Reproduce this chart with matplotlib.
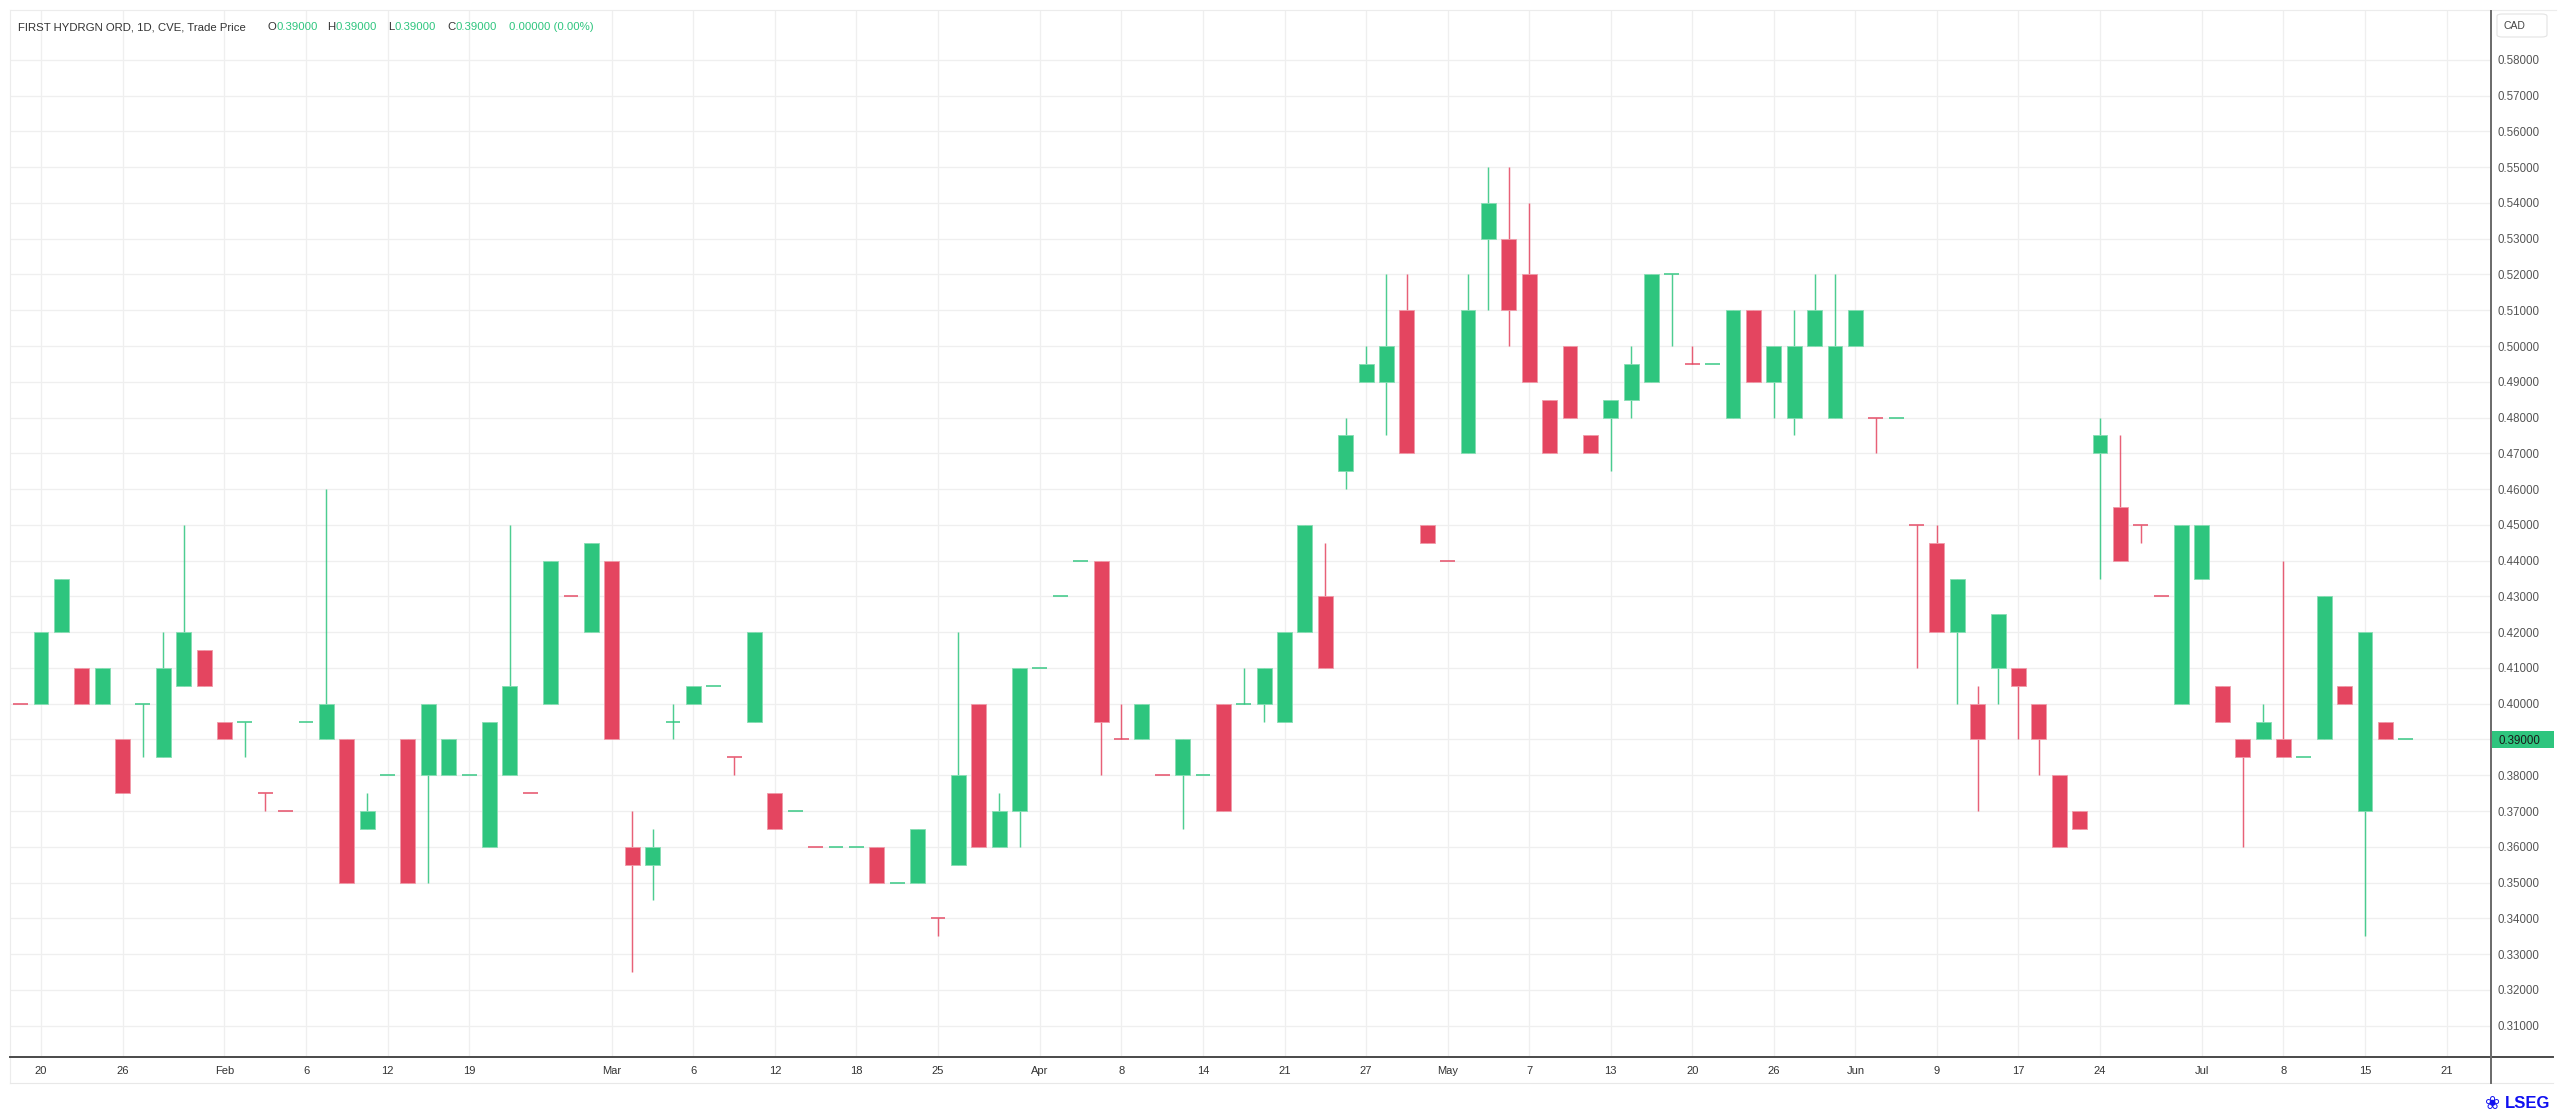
import matplotlib
matplotlib.use("Agg")
import matplotlib.pyplot as plt
from matplotlib.transforms import blended_transform_factory
from matplotlib.patches import Rectangle, FancyBboxPatch
from matplotlib.lines import Line2D
from matplotlib.ticker import FuncFormatter
import numpy as np

# ---------------- data ----------------
opens = [0.40, 0.40, 0.42, 0.41, 0.40, 0.39, 0.40, 0.385, 0.405, 0.415,
         0.395, 0.395, 0.375, 0.37, 0.395, 0.39, 0.39, 0.365, 0.38, 0.39,
         0.38, 0.38, 0.38, 0.36, 0.38, 0.375, 0.40, 0.43, 0.42, 0.44,
         0.36, 0.355, 0.395, 0.40, 0.405, 0.385, 0.395, 0.375, 0.37, 0.36,
         0.36, 0.36, 0.36, 0.35, 0.35, 0.34, 0.355, 0.40, 0.36, 0.37,
         0.41, 0.43, 0.44, 0.44, 0.39, 0.39, 0.38, 0.38, 0.38, 0.40,
         0.40, 0.40, 0.395, 0.42, 0.43, 0.465, 0.49, 0.49, 0.51, 0.45,
         0.44, 0.47, 0.53, 0.53, 0.52, 0.485, 0.50, 0.475, 0.48, 0.485,
         0.49, 0.52, 0.495, 0.495, 0.48, 0.51, 0.49, 0.48, 0.50, 0.48,
         0.50, 0.48, 0.48, 0.45, 0.445, 0.42, 0.40, 0.41, 0.41, 0.40,
         0.38, 0.37, 0.47, 0.455, 0.45, 0.43, 0.40, 0.435, 0.405, 0.39,
         0.39, 0.39, 0.385, 0.39, 0.405, 0.37, 0.395, 0.39]
highs = [0.40, 0.42, 0.435, 0.41, 0.41, 0.39, 0.40, 0.42, 0.45, 0.415,
         0.395, 0.395, 0.375, 0.37, 0.395, 0.46, 0.39, 0.375, 0.38, 0.39,
         0.40, 0.39, 0.38, 0.395, 0.45, 0.375, 0.44, 0.43, 0.445, 0.44,
         0.37, 0.365, 0.40, 0.405, 0.405, 0.385, 0.42, 0.375, 0.37, 0.36,
         0.36, 0.36, 0.36, 0.35, 0.365, 0.34, 0.42, 0.40, 0.375, 0.41,
         0.41, 0.43, 0.44, 0.44, 0.40, 0.40, 0.38, 0.39, 0.38, 0.40,
         0.41, 0.41, 0.42, 0.45, 0.445, 0.48, 0.50, 0.52, 0.52, 0.45,
         0.44, 0.52, 0.55, 0.55, 0.54, 0.485, 0.50, 0.475, 0.485, 0.50,
         0.52, 0.52, 0.50, 0.495, 0.51, 0.51, 0.50, 0.51, 0.52, 0.52,
         0.51, 0.48, 0.48, 0.45, 0.45, 0.435, 0.405, 0.425, 0.41, 0.40,
         0.38, 0.37, 0.48, 0.475, 0.45, 0.43, 0.45, 0.45, 0.405, 0.39,
         0.40, 0.44, 0.385, 0.43, 0.405, 0.42, 0.395, 0.39]
lows = [0.40, 0.40, 0.42, 0.40, 0.40, 0.375, 0.385, 0.385, 0.405, 0.405,
        0.39, 0.385, 0.37, 0.37, 0.395, 0.39, 0.35, 0.365, 0.38, 0.35,
        0.35, 0.38, 0.38, 0.36, 0.38, 0.375, 0.40, 0.43, 0.42, 0.39,
        0.325, 0.345, 0.39, 0.40, 0.405, 0.38, 0.395, 0.365, 0.37, 0.36,
        0.36, 0.36, 0.35, 0.35, 0.35, 0.335, 0.355, 0.36, 0.36, 0.36,
        0.41, 0.43, 0.44, 0.38, 0.39, 0.39, 0.38, 0.365, 0.38, 0.37,
        0.40, 0.395, 0.395, 0.42, 0.41, 0.46, 0.49, 0.475, 0.47, 0.445,
        0.44, 0.47, 0.51, 0.50, 0.49, 0.47, 0.48, 0.47, 0.465, 0.48,
        0.49, 0.50, 0.495, 0.495, 0.48, 0.49, 0.48, 0.475, 0.50, 0.48,
        0.50, 0.47, 0.48, 0.41, 0.42, 0.40, 0.37, 0.40, 0.39, 0.38,
        0.36, 0.365, 0.435, 0.44, 0.445, 0.43, 0.40, 0.435, 0.395, 0.36,
        0.39, 0.385, 0.385, 0.39, 0.40, 0.335, 0.39, 0.39]
closes = [0.40, 0.42, 0.435, 0.40, 0.41, 0.375, 0.40, 0.41, 0.42, 0.405,
          0.39, 0.395, 0.375, 0.37, 0.395, 0.40, 0.35, 0.37, 0.38, 0.35,
          0.40, 0.39, 0.38, 0.395, 0.405, 0.375, 0.44, 0.43, 0.445, 0.39,
          0.355, 0.36, 0.395, 0.405, 0.405, 0.385, 0.42, 0.365, 0.37, 0.36,
          0.36, 0.36, 0.35, 0.35, 0.365, 0.34, 0.38, 0.36, 0.37, 0.41,
          0.41, 0.43, 0.44, 0.395, 0.39, 0.40, 0.38, 0.39, 0.38, 0.37,
          0.40, 0.41, 0.42, 0.45, 0.41, 0.475, 0.495, 0.50, 0.47, 0.445,
          0.44, 0.51, 0.54, 0.51, 0.49, 0.47, 0.48, 0.47, 0.485, 0.495,
          0.52, 0.52, 0.495, 0.495, 0.51, 0.49, 0.50, 0.50, 0.51, 0.50,
          0.51, 0.48, 0.48, 0.45, 0.42, 0.435, 0.39, 0.425, 0.405, 0.39,
          0.36, 0.365, 0.475, 0.44, 0.45, 0.43, 0.45, 0.45, 0.395, 0.385,
          0.395, 0.385, 0.385, 0.43, 0.40, 0.42, 0.39, 0.39]
# bars with open == close that are drawn in the "down" colour
red_doji = [0, 12, 13, 25, 27, 35, 39, 45, 54, 56, 70, 82, 91, 93, 104, 105]

tick_bars = [1, 5, 10, 14, 18, 22, 29, 33, 37, 41, 45, 50, 54, 58, 62, 66,
             70, 74, 78, 82, 86, 90, 94, 98, 102, 107, 111, 115, 119]
tick_labels = ['20', '26', 'Feb', '6', '12', '19', 'Mar', '6', '12', '18', '25',
               'Apr', '8', '14', '21', '27', 'May', '7', '13', '20', '26', 'Jun',
               '9', '17', '24', 'Jul', '8', '15', '21']
price_ticks = [0.31, 0.32, 0.33, 0.34, 0.35, 0.36, 0.37, 0.38, 0.39, 0.40,
               0.41, 0.42, 0.43, 0.44, 0.45, 0.46, 0.47, 0.48, 0.49, 0.50,
               0.51, 0.52, 0.53, 0.54, 0.55, 0.56, 0.57, 0.58]
last_price = 0.39
title = "FIRST HYDRGN ORD, 1D, CVE, Trade Price"
ohlc_labels = ["O", "H", "L", "C"]
ohlc_values = ["0.39000", "0.39000", "0.39000", "0.39000"]
change_text = "0.00000 (0.00%)"

# ---------------- style ----------------
GREEN = "#2EC57E"
RED = "#E44560"
GREEN_L = "#86DDB3"
RED_L = "#F09AA8"
FONT = ["Liberation Sans", "DejaVu Sans"]
plt.rcParams['font.family'] = FONT

W, H = 2560, 1115
fig = plt.figure(figsize=(W / 100, H / 100), dpi=100)
fig.patch.set_facecolor("white")


def fx(px):
    return px / W


def fy(py):
    return 1 - py / H


ax = fig.add_axes([fx(10), fy(1057), fx(2491) - fx(10), fy(11) - fy(1057)])
ax.set_facecolor("white")
ax.set_xlim(-0.52, 121.18)
ax.set_ylim(0.30123, 0.59366)

o = np.array(opens)
h = np.array(highs)
l = np.array(lows)
c = np.array(closes)
x = np.arange(len(o))
flat = np.isclose(o, c)
up = (c > o) & ~flat
down = (c < o) & ~flat
is_red = down | (flat & np.isin(x, red_doji))
col = np.where(is_red, RED, GREEN)
col_l = np.where(is_red, RED_L, GREEN_L)

BW = 0.73
# wicks
ax.vlines(x, l, h, colors=col, linewidth=1.05, alpha=0.85, zorder=2)
# bodies
nf = ~flat
ax.bar(x[nf], np.abs(c - o)[nf], bottom=np.minimum(o, c)[nf], width=BW,
       color=col[nf], edgecolor=col_l[nf], linewidth=0.6, zorder=3)
# flat candles
ax.hlines(o[flat], x[flat] - BW / 2, x[flat] + BW / 2, colors=col[flat],
          linewidth=1.3, alpha=0.8, zorder=3)

# axes / grid
ax.set_xticks(tick_bars, tick_labels)
ax.set_yticks(price_ticks)
ax.yaxis.tick_right()
ax.yaxis.set_major_formatter(FuncFormatter(
    lambda v, p: "" if abs(v - last_price) < 1e-9 else f"{v:.5f}"))
ax.tick_params(axis="x", length=0, pad=6.5, labelsize=8, labelcolor="#333333")
ax.tick_params(axis="y", length=0, pad=5, labelsize=8.3, labelcolor="#555555")
ax.grid(True, color="#efefef", linewidth=0.9)
ax.set_axisbelow(True)
for s in ax.spines.values():
    s.set_visible(False)

# frame lines (figure pixels)
def fline(x0, y0, x1, y1, color, lw):
    fig.add_artist(Line2D([fx(x0), fx(x1)], [fy(y0), fy(y1)], color=color,
                          linewidth=lw, transform=fig.transFigure))

fline(10, 10, 2556, 10, "#ececec", 0.8)
fline(10, 10, 10, 1083, "#ececec", 0.8)
fline(10, 1083, 2553, 1083, "#e8e8e8", 0.8)
fline(10, 1057, 2553, 1057, "#4a4a4a", 1.4)
fline(2491, 11, 2491, 1083, "#6a6a6a", 1.4)

# last price tag
tr = blended_transform_factory(ax.transAxes, ax.transData)
ax.add_patch(Rectangle((1.0005, last_price - 0.00225), 62 / 2481, 0.0045,
                       transform=tr, clip_on=False, facecolor=GREEN,
                       edgecolor="none", zorder=5))
ax.text(1.0 + 7 / 2481, last_price, f"{last_price:.5f}", transform=tr,
        ha="left", va="center_baseline", fontsize=8.3, color="#1a1a1a",
        clip_on=False, zorder=6)

# CAD box
fig.add_artist(FancyBboxPatch((fx(2497), fy(37)), fx(50), fy(14) - fy(37),
                              boxstyle="round,pad=0,rounding_size=0.002",
                              transform=fig.transFigure, facecolor="white",
                              edgecolor="#e3e3e3", linewidth=0.8))
fig.text(fx(2504), fy(26), "CAD", ha="left", va="center", fontsize=7.5,
         color="#444444")

# header
renderer = fig.canvas.get_renderer()
HDR_Y = fy(27)
fig.text(fx(18), HDR_Y, title, ha="left", va="center", fontsize=8.2,
         color="#333333")
starts = [267, 327, 388, 447]
for st, lab, val in zip(starts, ohlc_labels, ohlc_values):
    t = fig.text(fx(st), HDR_Y, lab, ha="left", va="center", fontsize=8.2,
                 color="#333333")
    bb = t.get_window_extent(renderer)
    fig.text(bb.x1 / W + fx(0.5), HDR_Y, val, ha="left", va="center",
             fontsize=8.2, color=GREEN)
fig.text(fx(509), HDR_Y, change_text, ha="left", va="center", fontsize=8.2,
         color=GREEN)

# LSEG mark
fig.text(fx(2550), fy(1104), "LSEG", ha="right", va="center", fontsize=12,
         fontweight="bold", color="#1010F0")
fig.text(fx(2493), fy(1104), "\u2740", ha="center", va="center", fontsize=13,
         color="#1010F0", family=["DejaVu Sans"])

fig.savefig("out.png", dpi=100, facecolor="white")
